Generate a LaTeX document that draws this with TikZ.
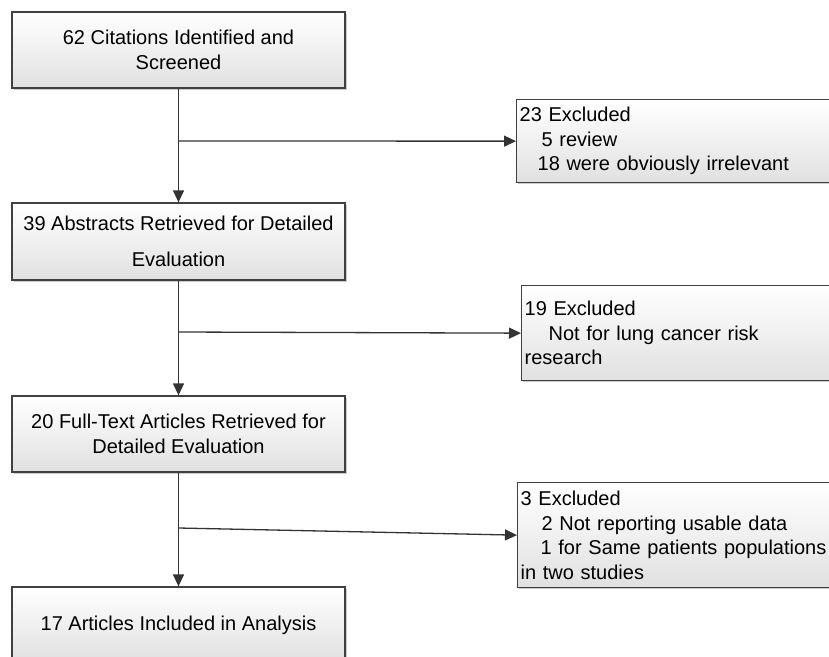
\documentclass[tikz,border=0pt]{standalone}
\usepackage{fontspec}
\setmainfont{Liberation Sans}
\usetikzlibrary{arrows.meta,shadows}

\begin{document}
\begin{tikzpicture}[x=1pt,y=-1pt,
    stage/.style={draw=black!75,line width=1.3pt,top color=white,bottom color=black!12,
      drop shadow={shadow xshift=1.5pt,shadow yshift=-1.5pt,fill=black!35,opacity=.6},
      minimum width=333pt,minimum height=76pt,align=center,inner sep=2pt},
    excl/.style={stage,anchor=north west,minimum width=330pt,text width=324pt,
      align=left,inner xsep=3pt},
    conn/.style={line width=1.3pt,black!80,-{Triangle[length=12pt,width=11pt]}}]
  \useasboundingbox (0,0) rectangle (829,656);
  \begin{scope}
    \fontsize{20}{24.5}\selectfont
    \node[stage] (cite) at (178.5,50) {62 Citations Identified and\\ Screened};
    \node[stage,minimum height=77pt] (abst) at (178.5,241.5) {39 Abstracts Retrieved for Detailed\\[11pt] Evaluation};
    \node[stage] (full) at (178.5,434) {20 Full-Text Articles Retrieved for\\ Detailed Evaluation};
    \node[stage] (incl) at (178.5,625) {17 Articles Included in Analysis};

    \node[excl,minimum height=83pt] (ex1) at (516,99) {23 Excluded\\
      \hspace*{22pt}5 review\\
      \hspace*{18pt}18 were obviously irrelevant};
    \node[excl,minimum height=95pt] (ex2) at (521,285) {19 Excluded\\
      \hspace*{24pt}Not for lung cancer risk\\
      research};
    \node[excl,minimum height=105pt] (ex3) at (517,482) {3 Excluded\\
      \hspace*{21pt}2 Not reporting usable data\\
      \hspace*{20pt}1 for Same patients populations\\
      in two studies};

    \coordinate (b1) at (178.5,141);
    \coordinate (b2) at (178.5,332);
    \coordinate (b3) at (178.5,528);

    \path[draw,conn] (cite) -- (abst);
    \path[draw,conn] (abst) -- (full);
    \path[draw,conn] (full) -- (incl);

    \path[draw,conn] (b1) -- (ex1.west);
    \path[draw,conn] (b2) -- (ex2.west);
    \path[draw,conn] (b3) -- (ex3.west);
  \end{scope}
\end{tikzpicture}
\end{document}
